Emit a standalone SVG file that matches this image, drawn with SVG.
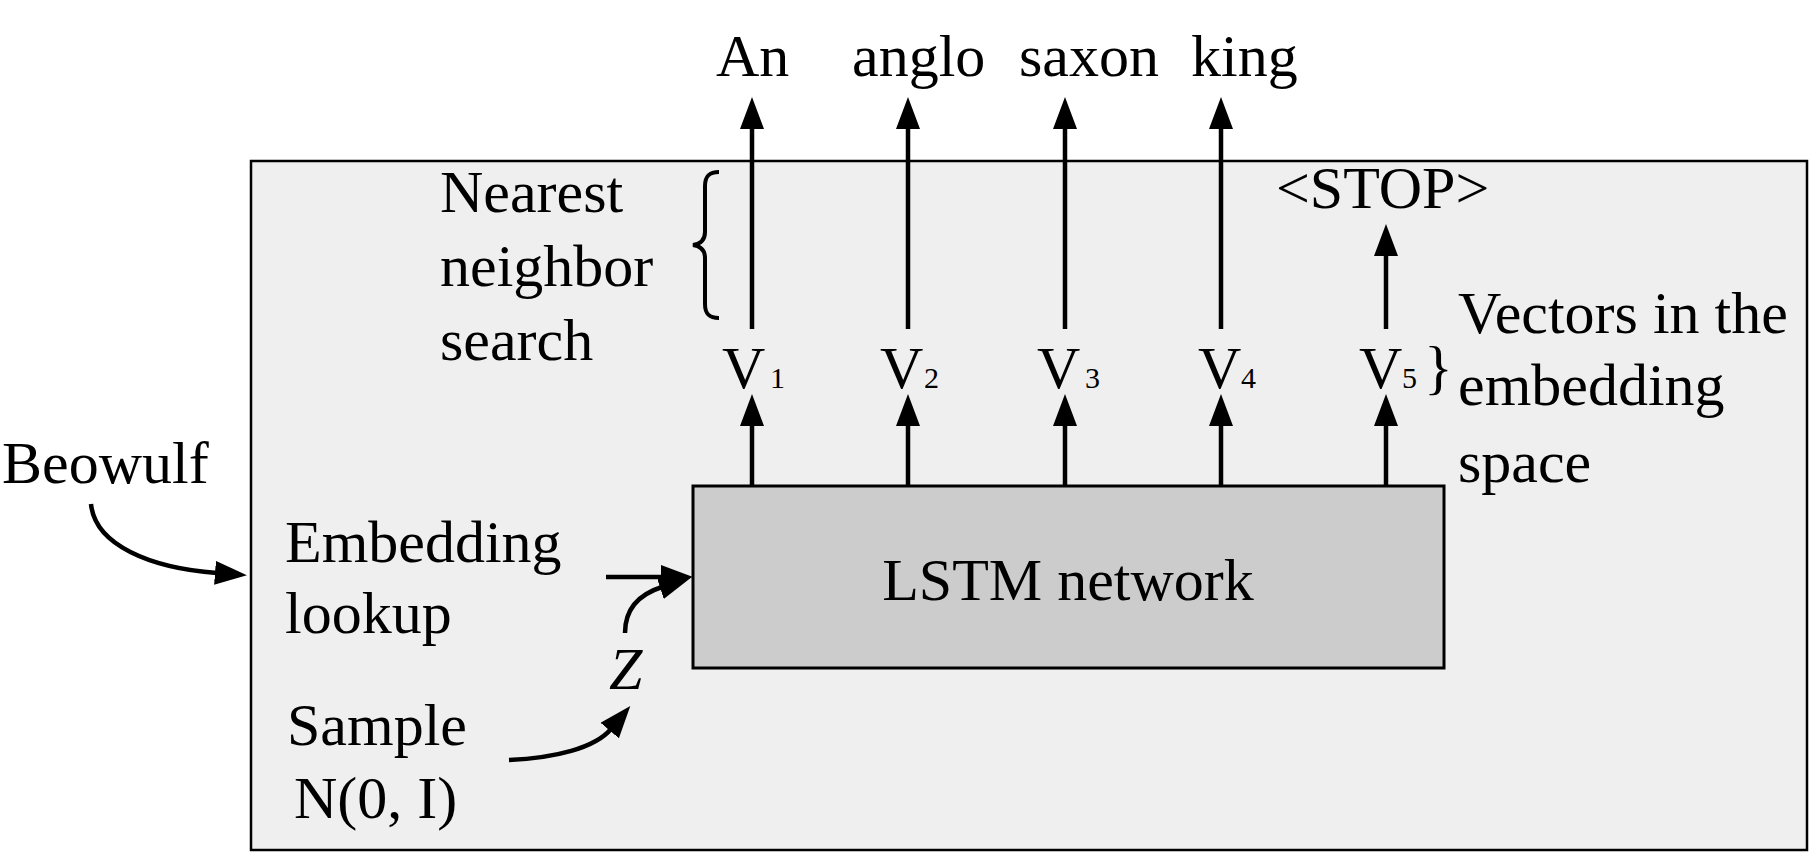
<svg xmlns="http://www.w3.org/2000/svg" width="1811" height="855" viewBox="0 0 1811 855">
<defs>
<marker id="ah" markerUnits="userSpaceOnUse" markerWidth="34" markerHeight="26" refX="2" refY="12" orient="auto" viewBox="0 0 34 26">
<path d="M0,0 L32,12 L0,24 z" fill="#000"/>
</marker>
<style>
text{font-family:"Liberation Serif","Times New Roman",serif;font-size:60px;fill:#000}
.sub{font-size:30px}
.it{font-style:italic}
.conn{fill:none;stroke:#000;stroke-width:4.5;marker-end:url(#ah)}
.brace{fill:none;stroke:#000;stroke-width:4}
</style>
</defs>
<rect width="1811" height="855" fill="#fff"/>
<g id="outer">
<rect x="251" y="161" width="1556" height="689" fill="#efefef" stroke="#000" stroke-width="2.5"/>
</g>
<g id="lstm">
<rect x="693" y="486" width="751" height="182" fill="#cccccc" stroke="#000" stroke-width="3"/>
<text x="1068" y="600" text-anchor="middle">LSTM network</text>
</g>
<g id="words">
<text x="716" y="76">An</text>
<text x="852" y="76">anglo</text>
<text x="1019" y="76">saxon</text>
<text x="1191" y="76">king</text>
</g>
<g id="stop"><text x="1276" y="208">&lt;STOP&gt;</text></g>
<g id="nn">
<text x="440" y="212">Nearest</text>
<text x="440" y="286">neighbor</text>
<text x="440" y="360">search</text>
<path class="brace" d="M719,172 C709,172 705,176 705,186 L705,232 C705,240 700,244 693,245 C700,246 705,250 705,258 L705,304 C705,314 709,318 719,318"/>
</g>
<g id="vectors">
<text x="722" y="388">V</text><text class="sub" x="770" y="388">1</text>
<text x="880" y="388">V</text><text class="sub" x="924" y="388">2</text>
<text x="1037" y="388">V</text><text class="sub" x="1085" y="388">3</text>
<text x="1198" y="388">V</text><text class="sub" x="1241" y="388">4</text>
<text x="1359" y="388">V</text><text class="sub" x="1402" y="388">5</text>
<text x="1424" y="387">}</text>
</g>
<g id="vec-label">
<text x="1458" y="333">Vectors in the</text>
<text x="1458" y="405">embedding</text>
<text x="1458" y="482">space</text>
</g>
<g id="beowulf"><text x="2" y="483">Beowulf</text></g>
<g id="embed">
<text x="285" y="562">Embedding</text>
<text x="285" y="633">lookup</text>
</g>
<g id="sample">
<text x="287" y="745">Sample</text>
<text x="294" y="818">N(0, I)</text>
</g>
<g id="z"><text class="it" x="609" y="689">Z</text></g>
<g id="connectors">
<line class="conn" x1="752" y1="329" x2="752" y2="127"/>
<line class="conn" x1="908" y1="329" x2="908" y2="127"/>
<line class="conn" x1="1065" y1="329" x2="1065" y2="127"/>
<line class="conn" x1="1221" y1="329" x2="1221" y2="127"/>
<line class="conn" x1="1386" y1="329" x2="1386" y2="254"/>
<line class="conn" x1="752" y1="486" x2="752" y2="424"/>
<line class="conn" x1="908" y1="486" x2="908" y2="424"/>
<line class="conn" x1="1065" y1="486" x2="1065" y2="424"/>
<line class="conn" x1="1221" y1="486" x2="1221" y2="424"/>
<line class="conn" x1="1386" y1="486" x2="1386" y2="424"/>
<line class="conn" x1="606" y1="577" x2="663" y2="577"/>
<path class="conn" d="M91,504 C95,545 150,568 217,573"/>
<path class="conn" d="M625,633 C625,608 640,594 662,587"/>
<path class="conn" d="M509,760 C555,758 595,748 611,729"/>
</g>
</svg>
